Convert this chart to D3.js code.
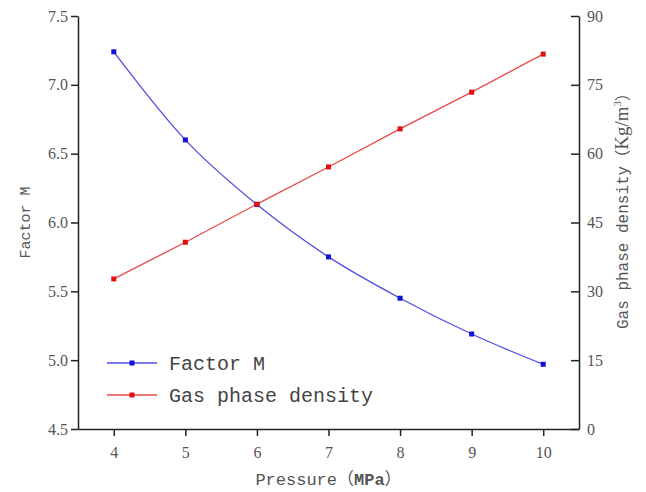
<!DOCTYPE html>
<html>
<head>
<meta charset="utf-8">
<script src="https://cdn.jsdelivr.net/npm/d3@7"></script>
<style>
  body { margin: 0; background: #fff; }
  svg { display: block; }
</style>
</head>
<body>
<div id="chart"></div>
<script>
// data
var pressure = [4, 5, 6, 7, 8, 9, 10];
var factorM = [7.24, 6.60, 6.13, 5.75, 5.45, 5.19, 4.97];
var gasDensity = [32.7, 40.7, 49.0, 57.1, 65.4, 73.4, 81.7];
var leftTicks = [4.5, 5.0, 5.5, 6.0, 6.5, 7.0, 7.5];
var rightTicks = [0, 15, 30, 45, 60, 75, 90];

var W = 646, H = 492;
var margin = { top: 16, right: 67, bottom: 63, left: 78 };
var width = W - margin.left - margin.right,
    height = H - margin.top - margin.bottom;

var svg = d3.select('#chart').append('svg')
    .attr('width', W)
    .attr('height', H);

var g = svg.append('g')
    .attr('transform', 'translate(' + margin.left + ',' + margin.top + ')');

var x = d3.scaleLinear().domain([3.5, 10.5]).range([0, width]);
var yL = d3.scaleLinear().domain([4.5, 7.5]).range([height, 0]);
var yR = d3.scaleLinear().domain([0, 90]).range([height, 0]);

var textCol = '#555';
var mono = '"Liberation Mono", monospace';
var cjk = '"Noto Sans CJK SC", sans-serif';
var blue = '#1010d8', blueLine = '#5050e0';
var red = '#e01010', redLine = '#e84848';

// axes
var xAxis = g.append('g')
    .attr('transform', 'translate(0,' + height + ')')
    .call(d3.axisBottom(x).tickValues(pressure).tickFormat(d3.format('d')).tickSize(7).tickSizeOuter(0));

var lAxis = g.append('g')
    .call(d3.axisLeft(yL).tickValues(leftTicks).tickFormat(d3.format('.1f')).tickSize(7).tickSizeOuter(0));

var rAxis = g.append('g')
    .attr('transform', 'translate(' + width + ',0)')
    .call(d3.axisRight(yR).tickValues(rightTicks).tickFormat(d3.format('d')).tickSize(-8).tickSizeOuter(0));

[xAxis, lAxis, rAxis].forEach(function (a) {
    a.select('.domain').attr('stroke', '#222').attr('stroke-width', 1.5);
    a.selectAll('.tick line').attr('stroke', '#222').attr('stroke-width', 1.5);
    a.selectAll('.tick text')
        .attr('fill', textCol)
        .style('font-family', '"Liberation Serif", serif')
        .style('font-size', '16px');
});
xAxis.selectAll('.tick text').attr('dy', '1.2em');
lAxis.selectAll('.tick text').attr('x', -10);
rAxis.selectAll('.tick text').attr('x', 8);

// axis titles
var xt = svg.append('text')
    .attr('x', margin.left + x(7))
    .attr('y', 485)
    .attr('text-anchor', 'middle')
    .attr('fill', textCol)
    .style('font-family', mono)
    .style('font-size', '17px');
xt.append('tspan').text('Pressure');
xt.append('tspan').style('font-family', cjk).text('（');
xt.append('tspan').style('font-weight', 'bold').text('MPa');
xt.append('tspan').style('font-family', cjk).text('）');

svg.append('text')
    .attr('transform', 'translate(30,' + (margin.top + height / 2) + ') rotate(-90)')
    .attr('text-anchor', 'middle')
    .attr('fill', textCol)
    .style('font-family', mono)
    .style('font-size', '15px')
    .text('Factor M');

var rt = svg.append('text')
    .attr('transform', 'translate(628,207) rotate(-90)')
    .attr('text-anchor', 'middle')
    .attr('fill', textCol)
    .style('font-family', mono)
    .style('font-size', '16px');
rt.append('tspan').text('Gas phase density');
rt.append('tspan').style('font-family', cjk).text('（');
rt.append('tspan').style('font-family', '"Liberation Serif", serif').style('font-size', '19px').text('Kg/m');
rt.append('tspan').attr('dy', -7).style('font-family', '"Liberation Serif", serif').style('font-size', '11px').text('3');
rt.append('tspan').attr('dy', 7).style('font-family', cjk).text('）');

// lines
var mLine = d3.line()
    .x(function (d, i) { return x(pressure[i]); })
    .y(function (d) { return yL(d); })
    .curve(d3.curveMonotoneX);

var dLine = d3.line()
    .x(function (d, i) { return x(pressure[i]); })
    .y(function (d) { return yR(d); });

g.append('path').datum(gasDensity)
    .attr('d', dLine).attr('fill', 'none')
    .attr('stroke', redLine).attr('stroke-width', 1.3);

g.append('path').datum(factorM)
    .attr('d', mLine).attr('fill', 'none')
    .attr('stroke', blueLine).attr('stroke-width', 1.3);

var ms = 5;
g.selectAll('.mM').data(factorM).enter().append('rect')
    .attr('x', function (d, i) { return x(pressure[i]) - ms / 2; })
    .attr('y', function (d) { return yL(d) - ms / 2; })
    .attr('width', ms).attr('height', ms)
    .attr('fill', blue);

g.selectAll('.mD').data(gasDensity).enter().append('rect')
    .attr('x', function (d, i) { return x(pressure[i]) - ms / 2; })
    .attr('y', function (d) { return yR(d) - ms / 2; })
    .attr('width', ms).attr('height', ms)
    .attr('fill', red);

// legend
var legend = [
    { name: 'Factor M', line: blueLine, mark: blue, y: 363 },
    { name: 'Gas phase density', line: redLine, mark: red, y: 395 }
];
var lg = svg.selectAll('.leg').data(legend).enter().append('g');
lg.append('line')
    .attr('x1', 107).attr('x2', 157)
    .attr('y1', function (d) { return d.y; }).attr('y2', function (d) { return d.y; })
    .attr('stroke', function (d) { return d.line; }).attr('stroke-width', 1.3);
lg.append('rect')
    .attr('x', 132 - ms / 2).attr('y', function (d) { return d.y - ms / 2; })
    .attr('width', ms).attr('height', ms)
    .attr('fill', function (d) { return d.mark; });
lg.append('text')
    .attr('x', 169).attr('y', function (d) { return d.y + 7; })
    .attr('fill', '#444')
    .style('font-family', mono)
    .style('font-size', '20px')
    .text(function (d) { return d.name; });
</script>
</body>
</html>
